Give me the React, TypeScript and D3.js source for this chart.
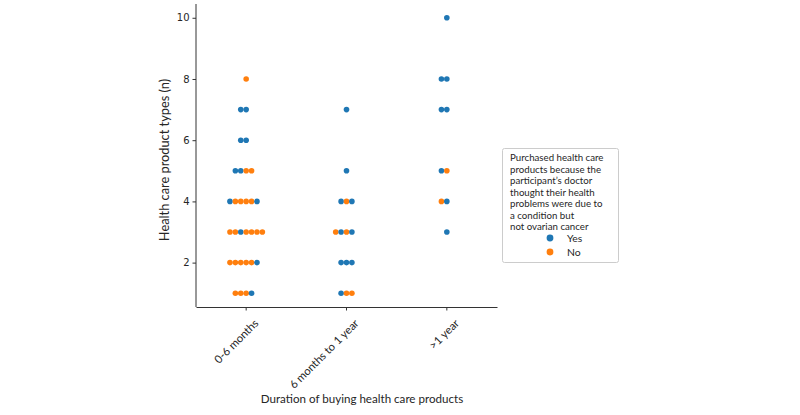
import React, { useRef, useEffect } from "react";
import * as d3 from "d3";

const categories = ["0-6 months", "6 months to 1 year", ">1 year"];
const yTicks = [2, 4, 6, 8, 10];
const answerKeys = ["Yes", "No"];
const answerColors = ["#1f77b4", "#ff7f0e"];

const legendTitle = [
  "Purchased health care",
  "products because the",
  "participant\u2019s doctor",
  "thought their health",
  "problems were due to",
  "a condition but",
  "not ovarian cancer",
];

// rows of the swarm: product types (n) and the answers, left to right
const upTo6Months = [
  { n: 8, a: ["No"] },
  { n: 7, a: ["Yes", "Yes"] },
  { n: 6, a: ["Yes", "Yes"] },
  { n: 5, a: ["Yes", "Yes", "No", "No"] },
  { n: 4, a: ["Yes", "No", "No", "No", "No", "Yes"] },
  { n: 3, a: ["No", "No", "Yes", "No", "No", "No", "No"] },
  { n: 2, a: ["No", "No", "No", "No", "No", "Yes"] },
  { n: 1, a: ["No", "No", "No", "Yes"] },
];

const sixMonthsTo1Year = [
  { n: 7, a: ["Yes"] },
  { n: 5, a: ["Yes"] },
  { n: 4, a: ["Yes", "No", "Yes"] },
  { n: 3, a: ["No", "Yes", "No", "Yes"] },
  { n: 2, a: ["Yes", "Yes", "Yes"] },
  { n: 1, a: ["Yes", "No", "No"] },
];

const overOneYear = [
  { n: 10, a: ["Yes"] },
  { n: 8, a: ["Yes", "Yes"] },
  { n: 7, a: ["Yes", "Yes"] },
  { n: 5, a: ["Yes", "No"] },
  { n: 4, a: ["No", "Yes"] },
  { n: 3, a: ["Yes"] },
];

const groups = [upTo6Months, sixMonthsTo1Year, overOneYear];

const App = () => {
  const ref = useRef<SVGSVGElement>(null);

  useEffect(() => {
    const svg = d3.select(ref.current);
    svg.selectAll("*").remove();

    const left = 196;
    const right = 497;
    const top = 4;
    const bottom = 307;
    const gap = 5.4;
    const radius = 2.8;

    const x = d3.scaleBand().domain(categories).range([left, right]).padding(0);
    const y = d3.scaleLinear().domain([0.55, 10.45]).range([bottom, top]);
    const color = d3.scaleOrdinal<string, string>().domain(answerKeys).range(answerColors);

    // y axis
    const gy = svg
      .append("g")
      .attr("transform", `translate(${left},0)`)
      .call(d3.axisLeft(y).tickValues(yTicks).tickSize(3.5).tickSizeOuter(0).tickPadding(3));
    gy.select(".domain").attr("stroke", "#333").attr("d", `M0,${top}V${bottom}`);
    gy.selectAll(".tick line").attr("stroke", "#333");
    gy.selectAll(".tick text")
      .attr("font-family", "DejaVu Sans")
      .attr("font-size", 10)
      .attr("fill", "#262626");

    // x axis
    const gx = svg
      .append("g")
      .attr("transform", `translate(0,${bottom})`)
      .call(d3.axisBottom(x).tickSize(3.5).tickSizeOuter(0));
    gx.select(".domain").attr("stroke", "#333");
    gx.selectAll(".tick line").attr("stroke", "#333");
    gx.selectAll(".tick text")
      .attr("font-family", "Lato")
      .attr("font-size", 11.2)
      .attr("fill", "#262626")
      .attr("text-anchor", "end")
      .attr("dy", null)
      .attr("y", 0)
      .attr("transform", "translate(13,17) rotate(-45)");

    // axis titles
    svg
      .append("text")
      .attr("text-anchor", "middle")
      .attr("x", 362)
      .attr("y", 403)
      .attr("font-family", "Lato")
      .attr("font-size", 11.6)
      .attr("fill", "#262626")
      .text("Duration of buying health care products");

    svg
      .append("text")
      .attr("text-anchor", "middle")
      .attr("transform", "rotate(-90)")
      .attr("x", -160)
      .attr("y", 169)
      .attr("font-family", "Lato")
      .attr("font-size", 12.8)
      .attr("fill", "#262626")
      .text("Health care product types (n)");

    // swarm points
    const points = groups.flatMap((rows, ci) =>
      rows.flatMap((row) =>
        row.a.map((ans, i) => ({
          cat: categories[ci],
          n: row.n,
          ans,
          offset: i - Math.floor(row.a.length / 2),
        }))
      )
    );

    svg
      .append("g")
      .selectAll("circle")
      .data(points)
      .join("circle")
      .attr("cx", (d) => x(d.cat)! + x.bandwidth() / 2 + d.offset * gap)
      .attr("cy", (d) => y(d.n))
      .attr("r", radius)
      .attr("fill", (d) => color(d.ans))
      .attr("stroke", "none");

    // legend
    const lg = svg.append("g");
    lg.append("rect")
      .attr("x", 502.5)
      .attr("y", 148.5)
      .attr("width", 116)
      .attr("height", 114)
      .attr("rx", 2)
      .attr("fill", "white")
      .attr("stroke", "#cccccc");

    lg.selectAll("text.title")
      .data(legendTitle)
      .join("text")
      .attr("class", "title")
      .attr("x", 510)
      .attr("y", (d, i) => 161 + i * 11.5)
      .attr("font-family", "Lato")
      .attr("font-size", 9.7)
      .attr("fill", "#262626")
      .text((d) => d);

    const items = lg
      .selectAll("g.item")
      .data(answerKeys)
      .join("g")
      .attr("class", "item")
      .attr("transform", (d, i) => `translate(550,${238 + i * 14})`);
    items.append("circle").attr("r", 3.4).attr("fill", (d) => color(d));
    items
      .append("text")
      .attr("x", 17)
      .attr("y", 3.5)
      .attr("font-family", "Lato")
      .attr("font-size", 10.4)
      .attr("fill", "#262626")
      .text((d) => d);
  }, []);

  return (
    <svg
      ref={ref}
      width={800}
      height={415}
      style={{ position: "absolute", left: 0, top: 0, background: "white" }}
    />
  );
};

export default App;
